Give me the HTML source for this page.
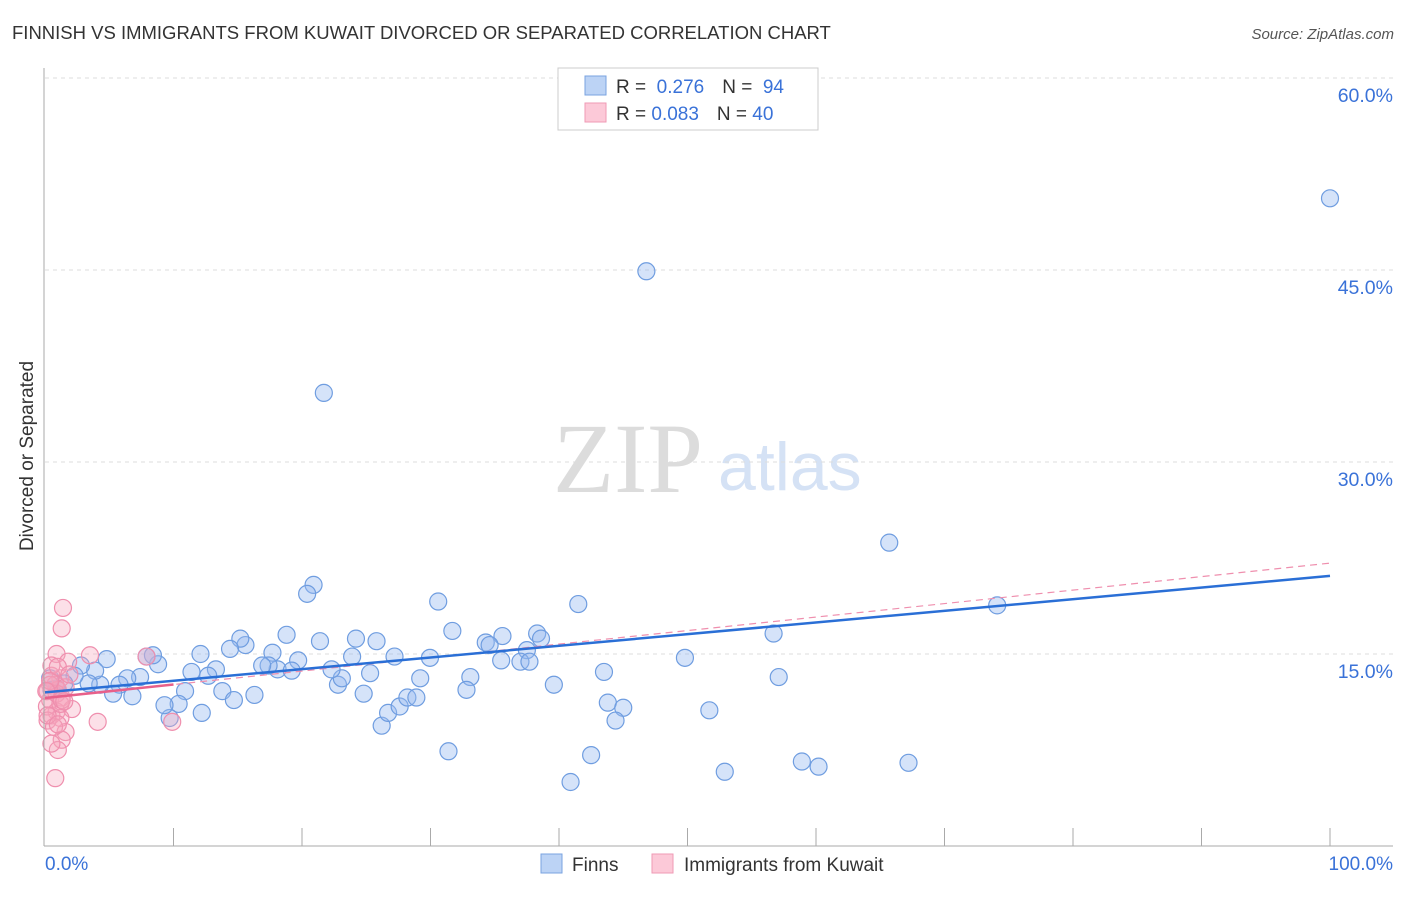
<!DOCTYPE html>
<html><head><meta charset="utf-8"><style>
body{margin:0;background:#fff;font-family:"Liberation Sans",sans-serif;}
svg text{font-family:"Liberation Sans",sans-serif;}
</style></head><body>
<svg id="c" width="1406" height="892">
<text x="12" y="39" font-size="18.5" fill="#333">FINNISH VS IMMIGRANTS FROM KUWAIT DIVORCED OR SEPARATED CORRELATION CHART</text>
<text x="1394" y="39" font-size="15" fill="#555" text-anchor="end" font-style="italic">Source: ZipAtlas.com</text>
<text x="0" y="0" transform="translate(33,456) rotate(-90)" font-size="19" fill="#333" text-anchor="middle">Divorced or Separated</text>
<text x="553" y="492" font-size="100" fill="#dcdcdc" style="font-family:'Liberation Serif',serif">ZIP</text>
<text x="718" y="490" font-size="68" fill="#d5e2f5">atlas</text>
<g id="grid"></g><g id="pts"></g><g id="lines"></g>
<line x1="44" y1="68" x2="44" y2="846" stroke="#aaa"/>
<line x1="44" y1="846" x2="1393" y2="846" stroke="#aaa"/>
<text x="45" y="870" font-size="19" fill="#3a72d8">0.0%</text>
<text x="1393" y="870" font-size="19" fill="#3a72d8" text-anchor="end">100.0%</text>
<g>
<rect x="558" y="68" width="260" height="62" fill="#fff" stroke="#ccc"/>
<rect x="585" y="76" width="21" height="19" fill="#bcd3f5" stroke="#7aa3e0"/>
<rect x="585" y="103" width="21" height="19" fill="#fcc9d8" stroke="#ef9ab5"/>
<text x="616" y="93" font-size="19" fill="#333">R = <tspan fill="#3a72d8">&#160;0.276</tspan><tspan dx="18" fill="#333">N = </tspan><tspan fill="#3a72d8">&#160;94</tspan></text>
<text x="616" y="120" font-size="19" fill="#333">R = <tspan fill="#3a72d8">0.083</tspan><tspan dx="18" fill="#333">N = </tspan><tspan fill="#3a72d8">40</tspan></text>
</g>
<g>
<rect x="541" y="854" width="21" height="19" fill="#bcd3f5" stroke="#7aa3e0"/>
<text x="572" y="871" font-size="19" fill="#333">Finns</text>
<rect x="652" y="854" width="21" height="19" fill="#fcc9d8" stroke="#ef9ab5"/>
<text x="684" y="871" font-size="19" fill="#333">Immigrants from Kuwait</text>
</g>
</svg>
<script>
const yTicks=[15,30,45,60];
const yTickLabels=["15.0%","30.0%","45.0%","60.0%"];
const xTicks=[10,20,30,40,50,60,70,80,90,100];
const finnsX=[100,46.8,21.7,65.7,74.1,20.9,20.4,30.6,41.5,31.7,38.3,38.6,35.6,34.3,34.6,37.5,37,37.7,35.5,56.7,49.8,57.1,39.6,43.5,33.1,32.8,43.8,45,44.4,51.7,42.5,40.9,52.9,58.9,60.2,67.2,31.4,26.2,26.7,27.6,28.2,28.9,29.2,29.96,27.2,25.8,23.9,24.2,25.3,24.8,22.8,23.1,22.3,21.4,19.7,18.8,17.7,18.1,19.2,17.4,16.9,15.6,15.2,14.4,13.3,12.7,13.8,14.7,16.3,12.1,11.4,10.9,12.2,10.4,9.7,9.3,8.8,8.4,7.9,7.4,6.8,6.4,5.8,5.3,4.8,4.3,3.9,3.4,2.8,2.3,1.5,0.9,0.4,0.5];
const finnsY=[50.6,44.9,35.4,23.7,18.8,20.4,19.7,19.1,18.9,16.8,16.6,16.2,16.4,15.9,15.7,15.3,14.4,14.4,14.5,16.6,14.7,13.2,12.6,13.6,13.2,12.2,11.2,10.8,9.8,10.6,7.1,5,5.8,6.6,6.2,6.5,7.4,9.4,10.4,10.9,11.6,11.6,13.1,14.7,14.8,16,14.8,16.2,13.5,11.9,12.6,13.1,13.8,16,14.5,16.5,15.1,13.8,13.7,14.1,14.1,15.7,16.2,15.4,13.8,13.3,12.1,11.4,11.8,15.0,13.6,12.1,10.4,11.1,10,11,14.2,14.9,14.8,13.2,11.7,13.1,12.6,11.9,14.6,12.6,13.7,12.7,14.1,13.3,12.7,12.3,13.1,12.2];
const kuwX=[1.4,1.3,0.9,3.5,1.8,4.1,1.2,0.5,0.8,1,1.3,0.4,2.1,0.9,0.5,1.2,1.6,1.3,1,0.8,0.4,0.2,0.5,0.15,9.9,7.9,0.9,1.2,0.2,0.7,1.6,0.4,1,1.3,0.2,0.1,1,0.5,1.9,1.5];
const kuwY=[18.6,17,15,14.9,14.4,9.7,13.1,13.3,12.6,12.2,11.6,11.4,10.7,10.5,10.2,10,8.9,8.3,7.5,5.3,12.6,12.1,14.1,10.9,9.7,14.8,11.9,11.1,9.8,9.3,12.4,12.9,14,11.4,10.2,12.1,9.5,8,13.4,11.3];
const finnsFit=[12.0,21.1];
const kuwFit=[11.56,22.1];
const kuwSolidEnd=10;
const NS="http://www.w3.org/2000/svg";
const X=v=>45+v*12.85, Y=v=>846-v*12.8;
function mk(t,a,p){const e=document.createElementNS(NS,t);for(const k in a)e.setAttribute(k,a[k]);p.appendChild(e);return e;}
const grid=document.getElementById('grid');
yTicks.forEach((t,i)=>{
 const l=mk('line',{x1:45,x2:1393,y1:Y(t),y2:Y(t),stroke:'#ddd','stroke-dasharray':'4,4'},grid);
 
 
 const tx=mk('text',{x:1393,y:Y(t)+24,'font-size':19.5,fill:'#3a72d8','text-anchor':'end'},grid);
 tx.textContent=yTickLabels[i];
 
 
});
xTicks.forEach(t=>{
 const l=mk('line',{x1:X(t),x2:X(t),y1:828,y2:846,stroke:'#aaa'},grid);
 
 
});
const pts=document.getElementById('pts');
finnsX.forEach((x,i)=>{
 const c=mk('circle',{cx:X(x),cy:Y(finnsY[i]),r:8.5,fill:'rgba(150,185,240,0.4)',stroke:'#6f9de0','stroke-width':1.2},pts);
 
 
});
kuwX.forEach((x,i)=>{
 const c=mk('circle',{cx:X(x),cy:Y(kuwY[i]),r:8.5,fill:'rgba(245,165,190,0.35)',stroke:'#ef8fae','stroke-width':1.2},pts);
 
 
});
const L=document.getElementById('lines');
const kf=v=>kuwFit[0]+(kuwFit[1]-kuwFit[0])*v/100;
let a=mk('line',{x1:X(0),y1:Y(kf(0)),x2:X(100),y2:Y(kf(100)),stroke:'#ef8fae','stroke-width':1.2,'stroke-dasharray':'7,5'},L);


let b=mk('line',{x1:X(0),y1:Y(kf(0)),x2:X(kuwSolidEnd),y2:Y(kf(kuwSolidEnd)),stroke:'#e8608a','stroke-width':2.5},L);


let f=mk('line',{x1:X(0),y1:Y(finnsFit[0]),x2:X(100),y2:Y(finnsFit[1]),stroke:'#2a6fd6','stroke-width':2.5},L);


</script>
</body></html>
